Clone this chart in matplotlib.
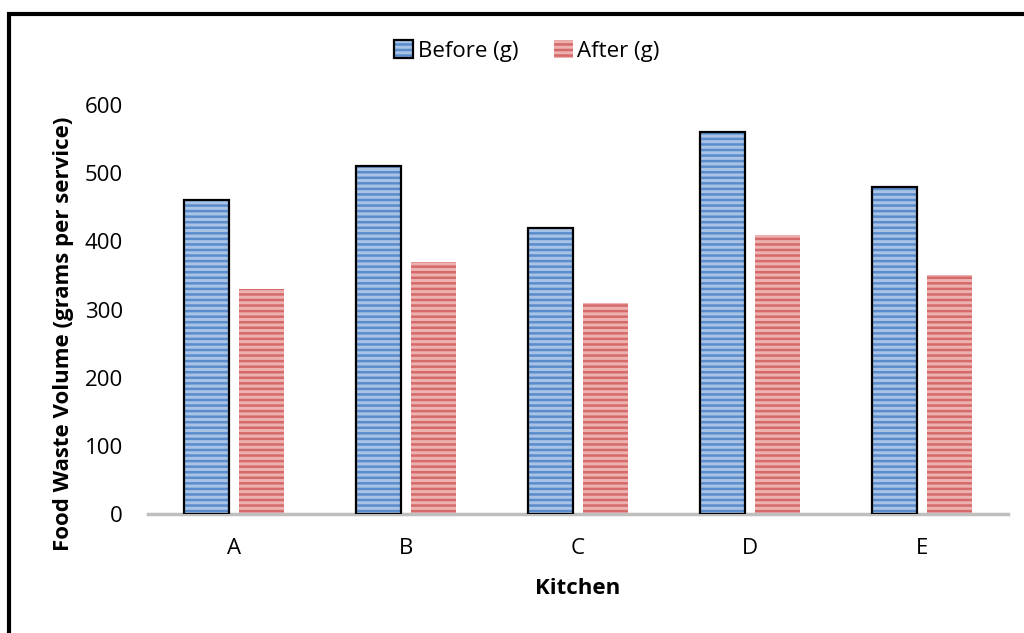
import numpy as np
import matplotlib.pyplot as plt
from matplotlib.patches import Rectangle

plt.rcParams['font.family'] = ['Open Sans', 'DejaVu Sans']
plt.rcParams['hatch.linewidth'] = 2.2

# Food waste per service, before and after the intervention
kitchens = ['A', 'B', 'C', 'D', 'E']
before_g = [460, 510, 420, 560, 480]
after_g = [330, 370, 310, 410, 350]

BLUE = '#5A8CCB'
BLUE_STRIPE = '#A8C3E6'
RED = '#D46A69'
RED_STRIPE = '#EDB1B0'
FS = 16

fig = plt.figure(figsize=(10.24, 6.33), dpi=100)
ax = fig.add_axes([0.1445, 0.188, 0.84, 0.646])

x = np.arange(len(kitchens))
w = 0.26
off = 0.16

# striped fill first, then outlines on top (hatch takes the edge colour)
b1 = ax.bar(x - off, before_g, w, color=BLUE, edgecolor=BLUE_STRIPE,
            hatch='---', linewidth=0, zorder=2)
b1_edge = ax.bar(x - off, before_g, w, fill=False, edgecolor='black',
                 linewidth=1.6, zorder=3)
b2 = ax.bar(x + off, after_g, w, color=RED, edgecolor=RED_STRIPE,
            hatch='---', linewidth=0, zorder=2)

ax.set_xlim(-0.5, len(kitchens) - 0.5)
ax.set_ylim(0, 600)
ax.set_yticks(range(0, 601, 100))
ax.set_xticks(x)
ax.set_xticklabels(kitchens)
ax.tick_params(axis='both', length=0, labelsize=FS)
ax.tick_params(axis='y', pad=18)
ax.tick_params(axis='x', pad=17)

for s in ['top', 'right', 'left']:
    ax.spines[s].set_visible(False)
ax.spines['bottom'].set_color('#BFBFBF')
ax.spines['bottom'].set_linewidth(2.5)

ax.set_xlabel('Kitchen', fontsize=FS, fontweight='bold', labelpad=14)
ax.set_ylabel('Food Waste Volume (grams per service)', fontsize=FS,
              fontweight='bold')
ax.yaxis.set_label_coords(-0.086, 0.44)

fig.legend([(b1[0], b1_edge[0]), b2[0]], ['Before (g)', 'After (g)'],
           loc='center', bbox_to_anchor=(527 / 1024, 1 - 51 / 633), ncol=2,
           frameon=False, fontsize=FS, handlelength=0.85,
           handleheight=0.85, handletextpad=0.2, columnspacing=1.6)

# outer chart frame
fig.add_artist(Rectangle((9 / 1024, -0.1), 1.2, 1.1 - 14 / 633,
                         transform=fig.transFigure, fill=False,
                         edgecolor='black', linewidth=3))

fig.savefig('out.png', dpi=100)
